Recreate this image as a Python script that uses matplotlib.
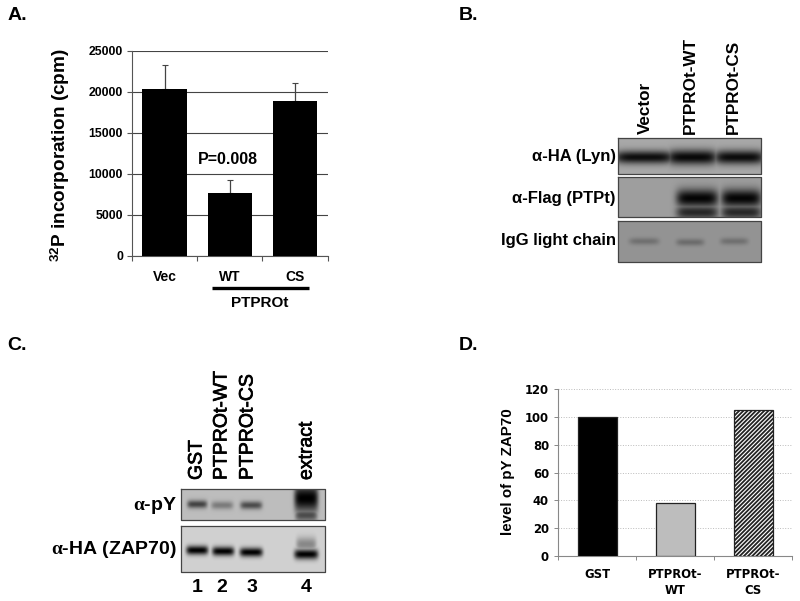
import numpy as np
import matplotlib
matplotlib.use('Agg')
import matplotlib.pyplot as plt
import matplotlib.patheffects as pe

plt.rcParams['font.family'] = ['Liberation Sans', 'DejaVu Sans']
plt.rcParams['font.weight'] = 'bold'
plt.rcParams['mathtext.fontset'] = 'custom'
plt.rcParams['mathtext.rm'] = 'Liberation Sans:bold'
plt.rcParams['mathtext.bf'] = 'Liberation Sans:bold'
plt.rcParams['mathtext.it'] = 'Liberation Serif:bold'
plt.rcParams['hatch.linewidth'] = 1.3

# panel A
a_groups = ['Vec', 'WT', 'CS']
a_values = [20300, 7600, 18900]
a_errors = [2900, 1600, 2100]
a_yticks = [0, 5000, 10000, 15000, 20000, 25000]

# panel D
d_groups = ['GST', 'PTPROt-\nWT', 'PTPROt-\nCS']
d_values = [100, 38, 105]
d_yticks = [0, 20, 40, 60, 80, 100, 120]

# blot bands, one row per band: x centre, half width, y centre, half height, darkness
b_lyn = [(644, 30, 157, 6.5, 0.92), (692, 25, 157, 7.5, 0.95), (739, 25, 157, 7, 0.93)]
b_flag = [(697, 21, 198, 9, 0.97), (697, 21, 212, 7, 0.75),
          (741, 20, 198, 9, 0.97), (741, 20, 212, 7, 0.75)]
b_igg = [(644, 15, 241, 3.5, 0.24), (690, 14, 242, 3.5, 0.27), (734, 14, 241, 3.5, 0.24)]
c_py = [(197, 10, 504, 4, 0.65), (222, 11, 505, 4, 0.35), (251, 11, 505, 4, 0.6),
        (306, 12, 498, 14, 1.0), (306, 11, 515, 6, 0.6)]
c_ha = [(197, 11, 550, 4.5, 1.0), (223, 11, 551, 4.5, 1.0), (251, 11.5, 552, 4.5, 1.0),
        (306, 12, 554, 5, 1.0), (306, 10, 544, 7, 0.35)]

W, H = 800, 601
fig = plt.figure(figsize=(8, 6.01), dpi=100)


def px_axes(x0, y0, x1, y1):
    return fig.add_axes([x0 / W, 1 - y1 / H, (x1 - x0) / W, (y1 - y0) / H])


def blot(ax, box, bg, bands):
    x0, y0, x1, y1 = box
    xs, ys = np.meshgrid(np.arange(x0, x1, 0.5), np.arange(y0, y1, 0.5))
    dark = np.zeros(xs.shape)
    for cx, sx, cy, sy, v in bands:
        dark = np.maximum(dark, v * np.exp(-np.abs((xs - cx) / sx) ** 6 - ((ys - cy) / sy) ** 2))
    ax.imshow(bg * (1 - dark), cmap='gray', vmin=0, vmax=1, extent=(x0, x1, y1, y0),
              aspect='auto', interpolation='bilinear', zorder=1)
    ax.plot([x0, x1, x1, x0, x0], [y0, y0, y1, y1, y0], color='#444444', lw=0.9, zorder=2)


# canvas in pixel coordinates for the blots and free text
bg_ax = fig.add_axes([0, 0, 1, 1])
bg_ax.axis('off')

blot(bg_ax, (618, 138, 761, 174), 0.66, b_lyn)
blot(bg_ax, (618, 177, 761, 217), 0.62, b_flag)
blot(bg_ax, (618, 221, 761, 262), 0.58, b_igg)
blot(bg_ax, (181, 489, 325, 520), 0.74, c_py)
blot(bg_ax, (181, 526, 325, 572), 0.82, c_ha)
bg_ax.set_xlim(0, W)
bg_ax.set_ylim(H, 0)

for s, x, y in [('A.', 8, 15), ('B.', 459, 15), ('C.', 7, 345), ('D.', 459, 346)]:
    bg_ax.text(x, y, s, fontsize=14, va='center', ha='left', zorder=5)

# panel B labels
for s, x in [('Vector', 645), ('PTPROt-WT', 690), ('PTPROt-CS', 733)]:
    bg_ax.text(x, 133.5, s, rotation=90, fontsize=12.3, ha='center', va='bottom')
for s, y in [('α-HA (Lyn)', 157), ('α-Flag (PTPt)', 199), ('IgG light chain', 240)]:
    bg_ax.text(616, y, s, fontsize=12, ha='right', va='center')

# panel C labels, regular face thickened a bit like the blurred original
for s, x in [('GST', 197), ('PTPROt-WT', 222), ('PTPROt-CS', 248), ('extract', 307)]:
    t = bg_ax.text(x, 480, s, rotation=90, fontsize=14, ha='center', va='bottom', fontweight='normal')
    t.set_path_effects([pe.withStroke(linewidth=0.5, foreground='black')])
for s, y in [(r'$\alpha$-pY', 505), (r'$\alpha$-HA (ZAP70)', 550)]:
    bg_ax.text(177, y, s, fontsize=14, ha='right', va='center')
for s, x in [('1', 197), ('2', 222), ('3', 252), ('4', 306)]:
    bg_ax.text(x, 587, s, fontsize=14, ha='center', va='center')

# panel A extras
bg_ax.text(60, 155, r'$^{\mathbf{32}}$P incorporation (cpm)', rotation=90, fontsize=13.7,
           ha='center', va='center')
bg_ax.plot([212, 309], [288, 288], color='black', lw=2.4, solid_capstyle='butt')
bg_ax.text(260, 303, 'PTPROt', fontsize=11, ha='center', va='center')
bg_ax.text(228, 160, 'P=0.008', fontsize=11.5, ha='center', va='center')

# panel A chart
ax = px_axes(132, 50.5, 327.5, 255.5)
ax.patch.set_alpha(0)
ax.bar(np.arange(3) + 0.5, a_values, width=0.68, color='black', zorder=3)
ax.errorbar(np.arange(3) + 0.5, a_values, yerr=[[0, 0, 0], a_errors], fmt='none',
            ecolor='#444444', elinewidth=0.9, capsize=2, capthick=0.8, zorder=2)
ax.set_xlim(0, 3)
ax.set_ylim(0, 25000)
ax.set_yticks(a_yticks)
ax.set_xticks([0, 1, 2, 3])
ax.set_xticklabels([])
ax.tick_params(axis='both', color='#555555', length=3.5, width=0.8)
ax.tick_params(axis='y', labelsize=8.8, pad=3)
ax.yaxis.grid(True, color='#444444', lw=0.8)
ax.set_axisbelow(True)
for k in ['top', 'right']:
    ax.spines[k].set_visible(False)
for k in ['left', 'bottom']:
    ax.spines[k].set_color('#555555')
for i, s in enumerate(a_groups):
    ax.annotate(s, (i + 0.5, 0), xytext=(0, -21), textcoords='offset pixels',
                ha='center', va='center', fontsize=10)

# panel D chart
ax = px_axes(558, 389, 792, 556)
ax.patch.set_alpha(0)
bars = ax.bar(np.arange(3) + 0.5, d_values, width=0.5, edgecolor='#222222', lw=0.9, zorder=3)
bars[0].set_facecolor('black')
bars[1].set_facecolor('#bdbdbd')
bars[2].set_facecolor('white')
bars[2].set_hatch('////////')
ax.set_xlim(0, 3)
ax.set_ylim(0, 120)
ax.set_yticks(d_yticks)
ax.set_yticklabels(d_yticks, family='DejaVu Sans', fontsize=8.4, fontweight='bold')
ax.set_xticks([0, 1, 2, 3])
ax.set_xticklabels([])
ax.tick_params(axis='both', color='#888888', length=3, width=0.7)
ax.yaxis.grid(True, color='#bbbbbb', lw=0.7, ls=':')
ax.set_axisbelow(True)
for k in ['top', 'right']:
    ax.spines[k].set_visible(False)
for k in ['left', 'bottom']:
    ax.spines[k].set_color('#888888')
for i, s in enumerate(d_groups):
    ax.annotate(s, (i + 0.5, 0), xytext=(0, -12), textcoords='offset pixels', ha='center',
                va='top', family='DejaVu Sans', fontsize=8.4, fontweight='bold', linespacing=1.25)

bg_ax.text(508, 472, 'level of pY ZAP70', rotation=90, fontsize=10.9, ha='center', va='center')

fig.savefig('out.png', dpi=100)
